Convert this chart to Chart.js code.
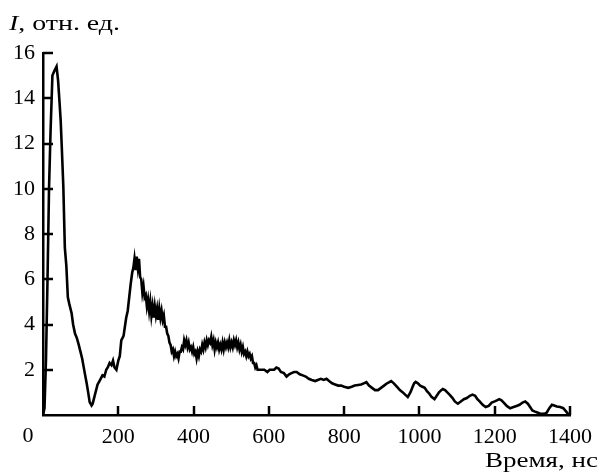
<!DOCTYPE html>
<html>
<head>
<meta charset="utf-8">
<script src="https://cdn.jsdelivr.net/npm/chart.js@4/dist/chart.umd.min.js"></script>
<style>
html,body{margin:0;padding:0;background:#fff;}
#wrap{width:601px;height:475px;}
</style>
</head>
<body>
<div id="wrap"><canvas id="c" width="601" height="475"></canvas></div>
<script>
const times = [
  0,4,8,12,16,20,25,30,36,40,44,47,50,54,58,62,66,70,76,80,85,90,95,98,104,111,116,120,124,129,132,138,145,150,158,163,168,172,177,182,186,190,195,200,204,208,214,221,225,229,233,237,
  240,243,246,249,252,255,258,261,264,267,270,273,276,279,282,285,288,291,294,297,
  300,303,306,309,312,315,318,321,324,327,330,333,336,339,342,345,348,351,354,357,
  360,363,366,369,372,375,378,381,384,387,390,393,396,399,402,405,408,411,414,417,
  420,423,426,429,432,435,438,441,444,447,450,453,456,459,462,465,468,471,474,477,
  480,483,486,489,492,495,498,501,504,507,510,513,516,519,522,525,528,531,534,537,
  540,543,546,549,552,555,558,561,564,567,570,
  573,580,588,596,602,608,614,620,626,632,640,647,654,660,667,674,682,690,698,706,714,723,730,738,746,753,760,768,776,784,792,800,811,820,828,837,845,852,859,866,874,882,890,898,906,914,920,925,932,940,948,956,962,969,976,982,986,990,996,1002,1008,1014,1020,1026,1032,1040,1046,1052,1058,1062,1068,1074,1080,1088,1094,1102,1110,1118,1126,1134,1141,1148,1154,1160,1168,1176,1184,1192,1200,1206,1212,1218,1224,1232,1241,1250,1258,1266,1274,1281,1288,1294,1300,1307,1315,1322,1331,1338,1345,1352,1358,1365,1374,1382,1390,1397
];
const intensity = [
  0,0.3,2.5,6,10,12.5,15,15.2,15.4,14.8,13.8,13.0,11.8,10.1,7.4,6.6,5.2,4.9,4.5,4.0,3.6,3.4,3.1,2.9,2.5,1.85,1.4,1.0,0.57,0.42,0.5,0.9,1.35,1.5,1.75,1.7,2.0,2.1,2.3,2.2,2.4,2.1,2.0,2.4,2.6,3.3,3.5,4.3,4.6,5.2,5.8,6.3,
  6.5,6.9,6.4,7.0,6.5,6.9,6.1,6.0,5.4,5.7,5.2,5.3,4.8,5.1,4.6,5.0,4.4,4.8,4.3,4.8,
  4.4,4.7,4.2,4.7,4.3,4.6,4.2,4.4,3.9,3.9,3.6,3.5,3.2,3.1,2.8,2.9,2.6,2.8,2.6,2.7,
  2.5,2.8,2.8,3.0,2.9,3.3,3.1,3.3,3.0,3.2,2.9,3.0,2.8,3.0,2.7,2.8,2.5,2.8,2.6,2.9,
  2.8,3.1,2.9,3.2,3.0,3.3,3.1,3.3,3.2,3.45,3.1,3.3,2.9,3.2,3.0,3.2,2.9,3.1,2.9,3.2,
  2.9,3.2,3.0,3.2,3.0,3.3,3.0,3.2,3.0,3.3,3.1,3.3,3.0,3.2,2.9,3.1,2.8,3.0,2.7,2.8,
  2.6,2.8,2.6,2.7,2.5,2.6,2.3,2.3,2.1,2.2,2.0,
  2.0,2.0,2.0,1.9,2.0,2.0,2.0,2.1,2.05,1.9,1.85,1.7,1.8,1.85,1.9,1.9,1.8,1.75,1.7,1.6,1.55,1.5,1.55,1.6,1.55,1.6,1.5,1.4,1.35,1.3,1.3,1.25,1.2,1.25,1.3,1.33,1.35,1.4,1.45,1.3,1.2,1.1,1.1,1.2,1.3,1.4,1.45,1.5,1.4,1.25,1.1,1.0,0.9,0.8,1.0,1.25,1.4,1.46,1.4,1.3,1.25,1.2,1.05,0.95,0.8,0.7,0.85,1.0,1.1,1.15,1.1,1.0,0.9,0.75,0.6,0.5,0.6,0.7,0.75,0.85,0.9,0.85,0.7,0.6,0.45,0.35,0.4,0.55,0.6,0.65,0.7,0.65,0.55,0.4,0.3,0.35,0.4,0.45,0.55,0.6,0.5,0.35,0.2,0.15,0.1,0.05,0.05,0.1,0.3,0.45,0.42,0.38,0.35,0.3,0.15,0
];
const xTicks = [0,200,400,600,800,1000,1200,1400];
const yTicks = [2,4,6,8,10,12,14,16];
const yTitleItalic = 'I';
const yTitleRest = ', отн. ед.';
const xTitle = 'Время, нс';

const FONT = '"Liberation Serif", "Times New Roman", serif';

function fitText(ctx, parts, x, y, targetW, align) {
  // parts: [{text, font}]
  let total = 0;
  parts.forEach(p => { ctx.font = p.font; p.w = ctx.measureText(p.text).width; total += p.w; });
  const s = targetW / total;
  ctx.save();
  const x0 = align === 'right' ? x - targetW : x;
  ctx.translate(x0, y);
  ctx.scale(s, 1);
  ctx.textAlign = 'left';
  ctx.textBaseline = 'alphabetic';
  let cx = 0;
  parts.forEach(p => { ctx.font = p.font; ctx.fillText(p.text, cx, 0); cx += p.w; });
  ctx.restore();
}

const decor = {
  id: 'decor',
  afterDraw(chart) {
    const ctx = chart.ctx;
    const xs = chart.scales.x, ys = chart.scales.y;
    ctx.save();
    ctx.strokeStyle = '#000';
    ctx.lineWidth = 2.5;
    xTicks.forEach(v => {
      if (v === 0) return;
      const px = Math.round(xs.getPixelForValue(v));
      ctx.beginPath(); ctx.moveTo(px, ys.bottom); ctx.lineTo(px, ys.bottom - 9); ctx.stroke();
    });
    yTicks.forEach(v => {
      const py = Math.round(ys.getPixelForValue(v));
      ctx.beginPath(); ctx.moveTo(xs.left, py); ctx.lineTo(xs.left + 10, py); ctx.stroke();
    });
    ctx.fillStyle = '#000';
    ctx.font = '22px ' + FONT;
    ctx.textAlign = 'center';
    ctx.textBaseline = 'middle';
    ctx.fillText('0', xs.left - 15, ys.bottom + 21);
    fitText(ctx, [{text: yTitleItalic, font: 'italic 22px ' + FONT}, {text: yTitleRest, font: '22px ' + FONT}], 9, 30, 111, 'left');
    fitText(ctx, [{text: xTitle, font: '22px ' + FONT}], 598, 467, 113, 'right');
    ctx.restore();
  }
};

new Chart(document.getElementById('c'), {
  type: 'line',
  data: {
    datasets: [{
      data: times.map((t, i) => ({x: t, y: intensity[i]})),
      borderColor: '#000',
      borderWidth: 2.6,
      pointRadius: 0,
      tension: 0,
      fill: false
    }]
  },
  options: {
    responsive: false,
    animation: false,
    devicePixelRatio: 1,
    layout: { padding: { top: 53, right: 28, left: 0, bottom: 0 } },
    plugins: { legend: { display: false }, tooltip: { enabled: false } },
    scales: {
      x: {
        type: 'linear', min: 0, max: 1400,
        afterFit(s) { s.height = 60; },
        afterBuildTicks(s) { s.ticks = xTicks.map(v => ({value: v})); },
        grid: { display: false, drawTicks: false },
        border: { display: true, color: '#000', width: 2.5 },
        ticks: {
          color: '#000', font: { family: FONT, size: 22 }, padding: 9,
          maxRotation: 0, autoSkip: false,
          callback: v => v === 0 ? '' : String(v)
        }
      },
      y: {
        type: 'linear', min: 0, max: 16,
        afterFit(s) { s.width = 43; },
        afterBuildTicks(s) { s.ticks = [0].concat(yTicks).map(v => ({value: v})); },
        grid: { display: false, drawTicks: false },
        border: { display: true, color: '#000', width: 2.5 },
        ticks: {
          color: '#000', font: { family: FONT, size: 22 }, padding: 8,
          autoSkip: false,
          callback: v => v === 0 ? '' : String(v)
        }
      }
    }
  },
  plugins: [decor]
});
</script>
</body>
</html>
